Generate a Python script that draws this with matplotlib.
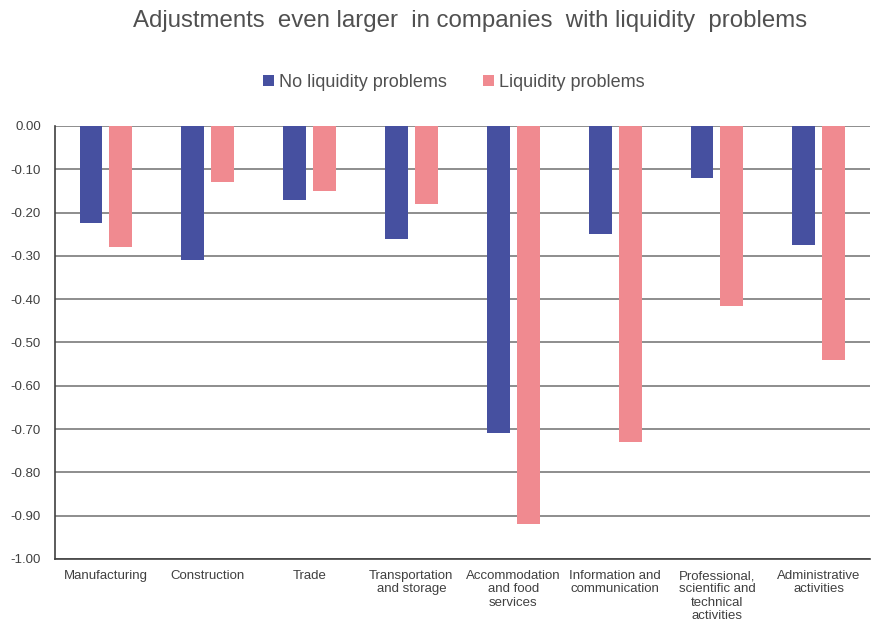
import matplotlib
matplotlib.use("Agg")
import matplotlib.pyplot as plt
import numpy as np

plt.rcParams['font.family'] = ['Liberation Sans', 'DejaVu Sans']

categories = ["Manufacturing", "Construction", "Trade", "Transportation\nand storage",
              "Accommodation\nand food\nservices", "Information and\ncommunication",
              "Professional,\nscientific and\ntechnical\nactivities", "Administrative\nactivities"]
no_liquidity = [-0.225, -0.31, -0.17, -0.26, -0.71, -0.25, -0.12, -0.275]
liquidity = [-0.28, -0.13, -0.15, -0.18, -0.92, -0.73, -0.415, -0.54]
yticks = [0.0, -0.1, -0.2, -0.3, -0.4, -0.5, -0.6, -0.7, -0.8, -0.9, -1.0]

blue = "#4650a0"
pink = "#f08a90"
txt = "#404040"

fig = plt.figure(figsize=(8.76, 6.28), dpi=100)
ax = fig.add_axes([0.0628, 0.1099, 0.930, 0.6895])

x = np.arange(len(categories))
w = 0.225
off = 0.147
ax.bar(x - off, no_liquidity, w, color=blue, label="No liquidity problems", zorder=3)
ax.bar(x + off, liquidity, w, color=pink, label="Liquidity problems", zorder=3)

ax.set_xlim(-0.5, len(categories) - 0.5)
ax.set_ylim(-1.0, 0.0)
ax.set_yticks(yticks)
ax.set_yticklabels([f"{v:.2f}" for v in yticks], fontsize=9.5, color=txt)
ax.set_xticks(x)
ax.set_xticklabels(categories, fontsize=9.5, color=txt, linespacing=1.15)
ax.tick_params(axis="x", length=0, pad=8)
ax.tick_params(axis="y", length=0, pad=10)
ax.yaxis.grid(True, color="#7a7a7a", linewidth=1.2, zorder=0)
for s in ["top", "right"]:
    ax.spines[s].set_visible(False)
for s in ["left", "bottom"]:
    ax.spines[s].set_color("#404040")
    ax.spines[s].set_linewidth(1.2)

fig.text(0.537, 0.967, "Adjustments  even larger  in companies  with liquidity  problems",
         ha="center", va="center", fontsize=17.3, color="#505050")
leg = fig.legend(loc="center", bbox_to_anchor=(0.518, 0.869), ncol=2, frameon=False,
                 fontsize=13, handlelength=0.6, handleheight=0.6, handletextpad=0.3,
                 columnspacing=2.0)
for t in leg.get_texts():
    t.set_color("#505050")

fig.savefig("out.png", dpi=100)
